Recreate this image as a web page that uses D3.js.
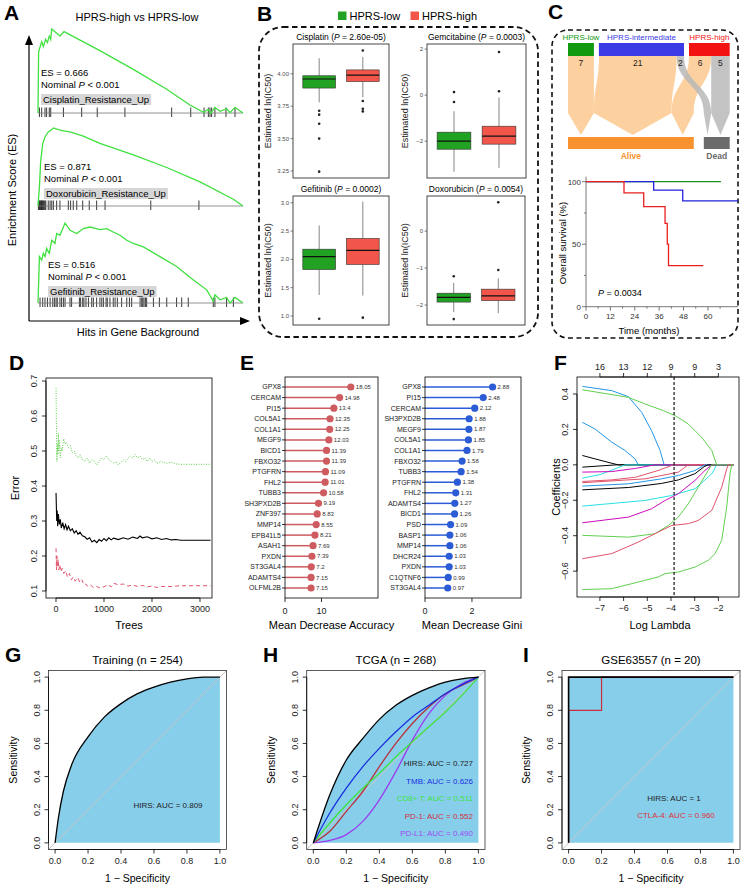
<!DOCTYPE html>
<html>
<head>
<meta charset="utf-8">
<script src="https://cdn.jsdelivr.net/npm/d3@7"></script>
<style>
  body { margin: 0; background: #fff; }
  svg { font-family: "Liberation Sans", Arial, Helvetica, sans-serif; }
</style>
</head>
<body>
<svg id="fig" width="746" height="889"></svg>
<script>
// ---------- data: A (GSEA) ----------
const gseaNames = ["Cisplatin_Resistance_Up", "Doxorubicin_Resistance_Up", "Gefitinib_Resistance_Up"];
const gseaES = [0.666, 0.871, 0.516];
const esCisplatin = [[0,0],[0.003,0.486],[0.018,0.566],[0.026,0.526],[0.037,0.584],[0.046,0.558],[0.055,0.61],[0.062,0.584],[0.067,0.666],[0.107,0.61],[0.127,0.645],[0.302,0.494],[0.465,0.346],[0.628,0.188],[0.741,0.063],[0.807,0.005],[0.831,0.029],[0.842,-0.003],[0.863,0.045],[0.888,0.013],[0.92,0.034],[0.937,0.003],[0.961,0.045],[1,0]];
const esDoxorubicin = [[0,0],[0.007,0.215],[0.013,0.5],[0.023,0.697],[0.034,0.771],[0.05,0.827],[0.067,0.853],[0.075,0.871],[0.1,0.853],[0.124,0.838],[0.156,0.827],[0.221,0.78],[0.302,0.7],[0.465,0.57],[0.628,0.43],[0.79,0.27],[0.953,0.075],[1,0]];
const esGefitinib = [[0,0],[0.007,0.299],[0.018,0.277],[0.026,0.32],[0.034,0.299],[0.042,0.352],[0.055,0.32],[0.067,0.405],[0.083,0.384],[0.091,0.448],[0.107,0.437],[0.132,0.516],[0.156,0.469],[0.189,0.448],[0.221,0.48],[0.254,0.49],[0.302,0.473],[0.335,0.48],[0.367,0.458],[0.4,0.437],[0.433,0.405],[0.465,0.384],[0.514,0.362],[0.595,0.299],[0.676,0.235],[0.758,0.149],[0.823,0.085],[0.855,0.011],[0.863,0.053],[0.888,0.021],[0.92,0.036],[0.937,0],[0.961,0.036],[1,0]];
const hitsCisplatin = [0.007,0.018,0.034,0.042,0.055,0.062,0.124,0.213,0.289,0.424,0.652,0.745,0.81,0.831,0.839,0.847,0.863,0.917,0.961];
const hitsDoxorubicin = [0.002,0.005,0.008,0.011,0.014,0.017,0.02,0.023,0.026,0.03,0.034,0.038,0.05,0.059,0.067,0.075,0.091,0.107,0.148,0.159,0.172,0.189,0.218,0.25,0.286,0.327,0.55,0.785];
const hitsGefitinib = [0.01,0.023,0.034,0.046,0.059,0.072,0.08,0.088,0.094,0.107,0.115,0.124,0.132,0.156,0.164,0.202,0.208,0.218,0.224,0.234,0.246,0.262,0.27,0.286,0.302,0.311,0.319,0.332,0.338,0.351,0.367,0.376,0.387,0.408,0.433,0.446,0.457,0.498,0.506,0.511,0.517,0.524,0.53,0.563,0.592,0.628,0.676,0.701,0.733,0.855,0.863,0.92,0.953];

// ---------- data: B (boxplots: lower whisker, Q1, median, Q3, upper whisker) ----------
const boxGroups = ["HPRS-low", "HPRS-high"];
const drugNames = ["Cisplatin", "Gemcitabine", "Gefitinib", "Doxorubicin"];
const drugP = ["2.60e-05", "0.0003", "0.0002", "0.0054"];
const cisLow = [3.78, 3.89, 3.96, 3.985, 4.12], cisLowOut = [3.715, 3.685, 3.615, 3.5, 3.245];
const cisHigh = [3.82, 3.94, 3.99, 4.03, 4.13], cisHighOut = [4.18, 3.79, 3.73, 3.71];
const gemLow = [-3.33, -2.35, -2.0, -1.61, -0.7], gemLowOut = [0.13, -0.3];
const gemHigh = [-3.16, -2.13, -1.78, -1.35, -0.1], gemHighOut = [0.17, 1.87];
const gefLow = [1.37, 1.82, 2.05, 2.18, 2.6], gefLowOut = [0.95];
const gefHigh = [1.36, 1.91, 2.16, 2.37, 3.02], gefHighOut = [0.97];
const doxLow = [-2.19, -1.92, -1.79, -1.68, -1.4], doxLowOut = [-1.22, -2.38];
const doxHigh = [-2.22, -1.88, -1.75, -1.57, -1.28], doxHighOut = [-1.05, 0.78];

// ---------- data: C (alluvial + KM) ----------
const sankeyGroups = ["HPRS-low", "HPRS-intermediate", "HPRS-high"];
const sankeyOutcomes = ["Alive", "Dead"];
const sankeyFlows = [["HPRS-low","Alive",7],["HPRS-intermediate","Alive",21],["HPRS-intermediate","Dead",2],["HPRS-high","Alive",6],["HPRS-high","Dead",5]];
const kmLow = [[0,100],[66.4,100]];
const kmInter = [[0,100],[33.3,93.3],[47.6,84.6],[74.8,84.6]];
const kmHigh = [[0,100],[18.7,91],[28.4,80],[38.9,66.7],[40,50],[40.6,32.8],[57.7,32.8]];
const kmXTicks = [0, 12, 24, 36, 48, 60];

// ---------- data: D (random forest error) ----------
const errOOB = [[1,0.38],[15,0.3],[25,0.33],[35,0.285],[50,0.32],[70,0.29],[90,0.305],[110,0.28],[140,0.295],[170,0.278],[200,0.29],[230,0.275],[260,0.285],[300,0.272],[340,0.278],[380,0.266],[420,0.272],[460,0.262],[500,0.268],[550,0.258],[600,0.255],[650,0.248],[700,0.252],[750,0.24],[800,0.245],[850,0.238],[900,0.247],[950,0.242],[1000,0.25],[1050,0.244],[1100,0.252],[1150,0.246],[1200,0.251],[1300,0.247],[1400,0.252],[1500,0.248],[1600,0.254],[1700,0.25],[1750,0.257],[1800,0.252],[1900,0.255],[2000,0.249],[2100,0.252],[2200,0.247],[2300,0.25],[2400,0.246],[2500,0.247],[2600,0.245],[2700,0.245],[3220,0.245]];
const errClass0 = [[1,0.222],[10,0.16],[20,0.2],[30,0.17],[45,0.19],[60,0.16],[80,0.175],[100,0.155],[130,0.165],[160,0.15],[200,0.158],[240,0.14],[280,0.15],[320,0.132],[360,0.14],[400,0.128],[450,0.138],[500,0.125],[540,0.132],[580,0.118],[620,0.12],[660,0.113],[720,0.117],[780,0.11],[850,0.113],[920,0.108],[1000,0.112],[1080,0.118],[1150,0.112],[1200,0.122],[1300,0.118],[1400,0.12],[1500,0.114],[1600,0.117],[1700,0.113],[1800,0.116],[1900,0.112],[2000,0.114],[2100,0.11],[2200,0.113],[2400,0.113],[2600,0.115],[3220,0.115]];
const errClass1 = [[1,0.68],[5,0.62],[10,0.56],[15,0.5],[20,0.47],[30,0.52],[40,0.49],[50,0.55],[60,0.5],[75,0.53],[90,0.48],[110,0.51],[130,0.5],[160,0.535],[190,0.52],[220,0.525],[260,0.51],[300,0.515],[340,0.495],[380,0.5],[420,0.485],[460,0.48],[500,0.49],[550,0.475],[600,0.47],[650,0.48],[700,0.465],[750,0.475],[800,0.47],[850,0.46],[900,0.47],[950,0.48],[1000,0.475],[1050,0.485],[1100,0.475],[1150,0.47],[1200,0.465],[1250,0.47],[1300,0.46],[1350,0.468],[1400,0.475],[1450,0.47],[1500,0.48],[1550,0.485],[1600,0.48],[1650,0.49],[1700,0.48],[1750,0.485],[1800,0.475],[1850,0.48],[1900,0.47],[1950,0.48],[2000,0.47],[2050,0.475],[2100,0.465],[2200,0.47],[2300,0.465],[2400,0.468],[2500,0.463],[2600,0.462],[3220,0.462]];

// ---------- data: E (importance) ----------
const accGenes = ["GPX8","CERCAM","PI15","COL5A1","COL1A1","MEGF9","BICD1","FBXO32","PTGFRN","FHL2","TUBB3","SH3PXD2B","ZNF397","MMP14","EPB41L5","ASAH1","PXDN","ST3GAL4","ADAMTS4","OLFML2B"];
const accValues = [18.05,14.98,13.4,12.35,12.25,12.03,11.39,11.39,11.09,11.01,10.58,9.19,8.83,8.55,8.21,7.69,7.39,7.2,7.15,7.15];
const giniGenes = ["GPX8","PI15","CERCAM","SH3PXD2B","MEGF9","COL5A1","COL1A1","FBXO32","TUBB3","PTGFRN","FHL2","ADAMTS4","BICD1","PSD","BASP1","MMP14","DHCR24","PXDN","C1QTNF6","ST3GAL4"];
const giniValues = [2.88,2.48,2.12,1.88,1.87,1.85,1.79,1.58,1.54,1.38,1.31,1.27,1.26,1.09,1.06,1.06,1.03,1.03,0.99,0.97];

// ---------- data: F (LASSO paths: [log lambda, coefficient]) ----------
const lassoColors = ["#2297E6","#61D04F","#2297E6","#000000","#000000","#28E2E5","#CD0BBC","#DF536B","#DF536B","#2297E6","#000000","#28E2E5","#CD0BBC","#61D04F","#DF536B","#61D04F"];
const lassoPaths = [
  [[-7.74,0.443],[-6.5,0.419],[-5.8,0.385],[-5.24,0.297],[-4.82,0.193],[-4.46,0.081],[-4.29,0]],
  [[-7.74,0.424],[-5.8,0.381],[-5.1,0.344],[-4.32,0.306],[-3.83,0.278],[-3.27,0.231],[-2.71,0.156],[-2.28,0.081],[-2.07,0]],
  [[-7.74,0.24],[-7.21,0.203],[-6.5,0.128],[-5.94,0.081],[-5.52,0.034],[-5.38,0]],
  [[-7.74,0.053],[-7.21,0.034],[-6.5,0.009],[-6.22,0]],
  [[-7.74,-0.013],[-6.3,0]],
  [[-7.74,-0.075],[-7.0,-0.055],[-6.5,-0.03],[-5.94,0]],
  [[-7.74,-0.041],[-6.5,-0.038],[-5.5,-0.02],[-4.68,0]],
  [[-7.74,-0.094],[-6.5,-0.085],[-5.5,-0.07],[-4.5,-0.03],[-3.9,0]],
  [[-7.74,-0.101],[-5.1,-0.079],[-3.69,-0.041],[-3.27,0]],
  [[-7.74,-0.12],[-5.8,-0.107],[-4.4,-0.079],[-3.69,-0.06],[-2.99,-0.032],[-2.57,0]],
  [[-7.74,-0.141],[-5.8,-0.128],[-4.4,-0.105],[-3.69,-0.085],[-2.99,-0.05],[-2.6,-0.01],[-2.43,0]],
  [[-7.74,-0.233],[-5.1,-0.201],[-3.97,-0.173],[-2.99,-0.135],[-2.28,-0.051],[-2.07,0]],
  [[-7.74,-0.327],[-5.8,-0.295],[-4.82,-0.248],[-4.25,-0.201],[-3.69,-0.163],[-2.99,-0.088],[-2.57,-0.032],[-2.28,0]],
  [[-7.74,-0.398],[-5.8,-0.408],[-4.68,-0.389],[-4.11,-0.342],[-3.69,-0.295],[-3.27,-0.22],[-2.85,-0.126],[-2.43,-0.032],[-2.28,0]],
  [[-7.74,-0.53],[-6.5,-0.501],[-5.38,-0.436],[-4.68,-0.389],[-3.97,-0.342],[-3.27,-0.332],[-2.85,-0.314],[-2.28,-0.257],[-1.86,-0.126],[-1.65,-0.023],[-1.58,0]],
  [[-7.74,-0.704],[-6.5,-0.699],[-5.1,-0.652],[-4.54,-0.633],[-4.25,-0.614],[-3.69,-0.605],[-2.99,-0.577],[-2.43,-0.539],[-2.14,-0.501],[-1.86,-0.426],[-1.65,-0.238],[-1.51,-0.051],[-1.44,0]]
];
const lassoLambdaMax = -1.37;
const lassoCut = -3.87;
const lassoXTicks = [-7, -6, -5, -4, -3, -2];
const lassoDf = ["16", "13", "12", "9", "9", "3"];

// ---------- data: G, H, I (ROC) ----------
const fprTrain = [0,0.02,0.05,0.1,0.2,0.3,0.4,0.5,0.6,0.7,0.8,0.9,1];
const sensTrain = [0,0.15,0.31,0.47,0.64,0.76,0.84,0.9,0.94,0.97,0.99,1,1];
const fprTcga = [0,0.1,0.2,0.3,0.4,0.5,0.6,0.7,0.8,0.9,1];
const sensHIRS = [0,0.29,0.5,0.63,0.745,0.83,0.89,0.935,0.97,0.99,1];
const sensTMB = [0,0.18,0.33,0.46,0.57,0.67,0.76,0.83,0.9,0.955,1];
const sensCD8 = [0,0.12,0.23,0.33,0.42,0.52,0.61,0.7,0.79,0.89,1];
const sensPD1 = [0,0.07,0.19,0.31,0.46,0.6,0.72,0.82,0.9,0.95,1];
const sensPDL1 = [0,0.015,0.05,0.13,0.26,0.43,0.62,0.78,0.89,0.96,1];
const fprGseHIRS = [0,0,1], sensGseHIRS = [0,1,1];
const fprCTLA4 = [0,0,0.2,0.2,1], sensCTLA4 = [0,0.8,0.8,1,1];

// ================= drawing =================
const svg = d3.select("#fig");

function txt(g, x, y, s, opt = {}) {
  const t = g.append("text").attr("x", x).attr("y", y)
    .attr("font-size", opt.size || 10)
    .attr("text-anchor", opt.anchor || "start")
    .attr("fill", opt.fill || "#000");
  if (s !== null) t.text(s);
  if (opt.weight) t.attr("font-weight", opt.weight);
  if (opt.style) t.attr("font-style", opt.style);
  if (opt.rotate) t.attr("transform", `rotate(${opt.rotate},${x},${y})`);
  return t;
}
function pText(g, x, y, pre, post, opt) {
  const t = txt(g, x, y, null, opt);
  t.append("tspan").text(pre);
  t.append("tspan").attr("font-style", "italic").text("P");
  t.append("tspan").text(post);
  return t;
}
function line(g, x1, y1, x2, y2, col, w) {
  return g.append("line").attr("x1", x1).attr("y1", y1).attr("x2", x2).attr("y2", y2)
    .attr("stroke", col || "#000").attr("stroke-width", w || 1);
}
// R-style axes
function rLeft(g, scale, x, ticks, fmt, fs, off) {
  line(g, x, scale(ticks[0]), x, scale(ticks[ticks.length - 1]), "#000", 0.8);
  ticks.forEach(t => {
    line(g, x - 4, scale(t), x, scale(t), "#000", 0.8);
    txt(g, x - off, scale(t), fmt(t), {size: fs, anchor: "middle", rotate: -90, fill: "#222"});
  });
}
function rBottom(g, scale, y, ticks, fmt, fs, labels) {
  line(g, scale(ticks[0]), y, scale(ticks[ticks.length - 1]), y, "#000", 0.8);
  ticks.forEach((t, i) => {
    line(g, scale(t), y, scale(t), y + 4, "#000", 0.8);
    txt(g, scale(t), y + 14, labels ? labels[i] : fmt(t), {size: fs, anchor: "middle", fill: "#222"});
  });
}

// panel letters
[["A",4,20],["B",257,21],["C",548,19],["D",9,370],["E",240,370],["F",554,370],["G",5,662],["H",263,662],["I",523,662]]
  .forEach(d => txt(svg, d[1], d[2], d[0], {size: 21, weight: "bold"}));

// ----- Panel A -----
(function () {
  const g = svg.append("g");
  const x = d3.scaleLinear().domain([0, 1]).range([38, 243]);
  const base = [113, 206, 303], peak = [29, 128, 223];
  const tx = [41, 44, 48], ty = [75.5, 169.5, 267.5];
  const curves = [esCisplatin, esDoxorubicin, esGefitinib];
  const hits = [hitsCisplatin, hitsDoxorubicin, hitsGefitinib];
  txt(g, 137, 21, "HPRS-high vs HPRS-low", {size: 11, anchor: "middle"});
  curves.forEach((c, i) => {
    const y = d3.scaleLinear().domain([0, gseaES[i]]).range([base[i], peak[i]]);
    g.selectAll(null).data(hits[i]).enter().append("line")
      .attr("x1", d => x(d)).attr("x2", d => x(d))
      .attr("y1", base[i] - 5.5).attr("y2", base[i] + 4)
      .attr("stroke", "#222").attr("stroke-width", 0.9);
    line(g, x(0), base[i], x(1), base[i], "#777", 0.8);
    g.append("path").datum(c)
      .attr("d", d3.line().x(d => x(d[0])).y(d => y(d[1])))
      .attr("fill", "none").attr("stroke", "#3fe03f").attr("stroke-width", 1.3);
    txt(g, tx[i], ty[i], "ES = " + gseaES[i].toFixed(3), {size: 9.5});
    pText(g, tx[i], ty[i] + 12, "Nominal ", " < 0.001", {size: 9.5});
    const lab = txt(g, tx[i] + 2, ty[i] + 27, gseaNames[i], {size: 9.5});
    const w = lab.node().getComputedTextLength();
    g.insert("rect", "text:last-child").attr("x", tx[i]).attr("y", ty[i] + 18.5)
      .attr("width", w + 4).attr("height", 11).attr("fill", "#d6d6d6");
  });
  // arrowed axes
  line(g, 29, 321, 29, 42, "#000", 1.2);
  g.append("path").attr("d", "M29,35 L25,45 L33,45 Z").attr("fill", "#000");
  line(g, 29, 321, 243, 321, "#000", 1.2);
  g.append("path").attr("d", "M250,321 L240,317 L240,325 Z").attr("fill", "#000");
  txt(g, 16, 190, "Enrichment Score (ES)", {size: 11, anchor: "middle", rotate: -90});
  txt(g, 138, 336, "Hits in Gene Background", {size: 11, anchor: "middle"});
})();

// ----- Panel B -----
(function () {
  const g = svg.append("g");
  const green = "#22a222", red = "#f2564a";
  g.append("rect").attr("x", 259).attr("y", 27).attr("width", 279).attr("height", 310).attr("rx", 24)
    .attr("fill", "none").attr("stroke", "#111").attr("stroke-width", 1.8).attr("stroke-dasharray", "5.5,3.5");
  g.append("rect").attr("x", 338).attr("y", 11.5).attr("width", 8.5).attr("height", 8.5).attr("fill", green);
  txt(g, 349.5, 20, boxGroups[0], {size: 11});
  g.append("rect").attr("x", 410.5).attr("y", 11.5).attr("width", 8.5).attr("height", 8.5).attr("fill", red);
  txt(g, 422, 20, boxGroups[1], {size: 11});

  const panels = [
    {x0: 293, x1: 389, y0: 44, y1: 178, dom: [3.196, 4.23], ticks: [3.25, 3.5, 3.75, 4.0], fmt: d3.format(".2f"), lab: 271, data: [[cisLow, cisLowOut], [cisHigh, cisHighOut]]},
    {x0: 427, x1: 526, y0: 44, y1: 178, dom: [-3.6, 2.22], ticks: [-2, 0, 2], fmt: d3.format("d"), lab: 408, data: [[gemLow, gemLowOut], [gemHigh, gemHighOut]]},
    {x0: 293, x1: 389, y0: 196, y1: 325, dom: [0.84, 3.12], ticks: [1, 1.5, 2, 2.5, 3], fmt: d3.format(".1f"), lab: 271, data: [[gefLow, gefLowOut], [gefHigh, gefHighOut]]},
    {x0: 427, x1: 525, y0: 196, y1: 325, dom: [-2.54, 0.95], ticks: [-2, -1, 0], fmt: d3.format("d"), lab: 408, data: [[doxLow, doxLowOut], [doxHigh, doxHighOut]]}
  ];
  panels.forEach((p, k) => {
    const x = d3.scaleLinear().domain([0.4, 2.6]).range([p.x0, p.x1]);
    const y = d3.scaleLinear().domain(p.dom).range([p.y1, p.y0]);
    const bw = x(0.75) - x(0);
    p.data.forEach((d, i) => {
      const s = d[0], cx = x(i + 1), col = i === 0 ? green : red;
      line(g, cx, y(s[0]), cx, y(s[1]), "#333", 0.6);
      line(g, cx, y(s[3]), cx, y(s[4]), "#333", 0.6);
      g.append("rect").attr("x", cx - bw / 2).attr("y", y(s[3])).attr("width", bw)
        .attr("height", y(s[1]) - y(s[3])).attr("fill", col).attr("stroke", "#333").attr("stroke-width", 0.6);
      line(g, cx - bw / 2, y(s[2]), cx + bw / 2, y(s[2]), "#111", 1.2);
      g.selectAll(null).data(d[1]).enter().append("circle")
        .attr("cx", cx).attr("cy", v => y(v)).attr("r", 1.3).attr("fill", "#222");
    });
    g.append("rect").attr("x", p.x0).attr("y", p.y0).attr("width", p.x1 - p.x0).attr("height", p.y1 - p.y0)
      .attr("fill", "none").attr("stroke", "#333").attr("stroke-width", 0.9);
    p.ticks.forEach(t => {
      line(g, p.x0 - 2.5, y(t), p.x0, y(t), "#333", 0.6);
      txt(g, p.x0 - 4, y(t) + 2, p.fmt(t), {size: 6, anchor: "end", fill: "#4d4d4d"});
    });
    pText(g, (p.x0 + p.x1) / 2, p.y0 - 4, drugNames[k] + " (", " = " + drugP[k] + ")", {size: 8.5, anchor: "middle"});
    txt(g, p.lab, (p.y0 + p.y1) / 2, "Estimated ln(IC50)", {size: 9, anchor: "middle", rotate: -90, fill: "#222"});
  });
})();

// ----- Panel C -----
(function () {
  const g = svg.append("g");
  g.append("rect").attr("x", 552).attr("y", 30).attr("width", 186).attr("height", 308).attr("rx", 16)
    .attr("fill", "none").attr("stroke", "#111").attr("stroke-width", 1.6).attr("stroke-dasharray", "5,3.5");
  const gcol = {"HPRS-low": "#109a10", "HPRS-intermediate": "#3b3be6", "HPRS-high": "#f31212"};
  const ocol = {"Alive": "#f7922f", "Dead": "#6b6b6b"};
  const total = d3.sum(sankeyFlows, f => f[2]);
  const u = d3.scaleLinear().domain([0, total]).range([0, total * 3.7]);
  const topY = 43, topH = 13, midY = 113, tipY = 135, botY = 137, botH = 12;
  const topPos = {}, botPos = {};
  let cx = 568;
  sankeyGroups.forEach(gn => {
    const n = d3.sum(sankeyFlows.filter(f => f[0] === gn), f => f[2]);
    topPos[gn] = {x0: cx, x1: cx + u(n)}; cx += u(n) + 5;
  });
  cx = 568;
  sankeyOutcomes.forEach(o => {
    const n = d3.sum(sankeyFlows.filter(f => f[1] === o), f => f[2]);
    botPos[o] = {x0: cx, x1: cx + u(n)}; cx += u(n) + 10;
  });
  const tc = {}, bc = {};
  sankeyGroups.forEach(gn => tc[gn] = topPos[gn].x0);
  sankeyOutcomes.forEach(o => bc[o] = botPos[o].x0);
  const flows = sankeyFlows.map(f => {
    const w = u(f[2]);
    const r = {src: f[0], dst: f[1], n: f[2], t0: tc[f[0]], t1: tc[f[0]] + w, b0: bc[f[1]], b1: bc[f[1]] + w};
    tc[f[0]] += w; bc[f[1]] += w;
    return r;
  });
  const ty = topY + topH, my = (ty + midY) / 2;
  const flowPath = f => `M${f.t0},${ty} C${f.t0},${my} ${f.b0},${my} ${f.b0},${midY} L${(f.b0 + f.b1) / 2},${tipY} L${f.b1},${midY} C${f.b1},${my} ${f.t1},${my} ${f.t1},${ty} Z`;
  ["Alive", "Dead"].forEach(o => {
    g.selectAll(null).data(flows.filter(f => f.dst === o)).enter().append("path")
      .attr("d", flowPath)
      .attr("fill", o === "Alive" ? "#fdd09f" : "#b9b9b9")
      .attr("fill-opacity", o === "Alive" ? 1 : 0.85);
  });
  sankeyGroups.forEach(gn => {
    const p = topPos[gn];
    g.append("rect").attr("x", p.x0).attr("y", topY).attr("width", p.x1 - p.x0).attr("height", topH).attr("fill", gcol[gn]);
    txt(g, (p.x0 + p.x1) / 2, 40, gn, {size: 8, anchor: "middle", fill: gcol[gn]});
  });
  flows.forEach(f => txt(g, (f.t0 + f.t1) / 2, 66, String(f.n), {size: 8.5, anchor: "middle", fill: "#222"}));
  sankeyOutcomes.forEach(o => {
    const p = botPos[o];
    g.append("rect").attr("x", p.x0).attr("y", botY).attr("width", p.x1 - p.x0).attr("height", botH).attr("fill", ocol[o]);
    txt(g, (p.x0 + p.x1) / 2, 159, o, {size: 8.5, anchor: "middle", weight: "bold", fill: ocol[o]});
  });

  // Kaplan-Meier
  const x = d3.scaleLinear().domain([0, 74.8]).range([586, 738]);
  const y = d3.scaleLinear().domain([0, 100]).range([306.7, 181.7]);
  line(g, x(0), y(0), x(0), y(104), "#555", 0.8);
  line(g, x(0), y(0), x(74.8), y(0), "#555", 0.8);
  [0, 50, 100].forEach(v => {
    line(g, x(0) - 4, y(v), x(0), y(v), "#555", 0.8);
    txt(g, x(0) - 5, y(v) + 3, String(v), {size: 8, anchor: "end", fill: "#333"});
  });
  [25, 75].forEach(v => line(g, x(0) - 2, y(v), x(0), y(v), "#555", 0.8));
  kmXTicks.forEach(v => {
    line(g, x(v), y(0), x(v), y(0) + 4, "#555", 0.8);
    txt(g, x(v), y(0) + 12.5, String(v), {size: 8, anchor: "middle", fill: "#333"});
    line(g, x(v + 6), y(0), x(v + 6), y(0) + 2, "#555", 0.8);
  });
  const km = d3.line().x(d => x(d[0])).y(d => y(d[1])).curve(d3.curveStepAfter);
  [[kmLow, "#1a901a"], [kmInter, "#2222e0"], [kmHigh, "#ea2020"]].forEach(k => {
    g.append("path").datum(k[0]).attr("d", km).attr("fill", "none").attr("stroke", k[1]).attr("stroke-width", 1.3);
  });
  pText(g, 598, 296, "", " = 0.0034", {size: 9});
  txt(g, 566, 243, "Overall survival (%)", {size: 9.5, anchor: "middle", rotate: -90});
  txt(g, 649, 334, "Time (months)", {size: 9.5, anchor: "middle"});
})();

// ----- Panel D -----
(function () {
  const g = svg.append("g");
  const x = d3.scaleLinear().domain([-208, 3250]).range([46, 212]);
  const y = d3.scaleLinear().domain([0.08, 0.7086]).range([598, 378]);
  const ln = d3.line().x(d => x(d[0])).y(d => y(d[1]));
  g.append("path").datum(errClass1).attr("d", ln).attr("fill", "none").attr("stroke", "#61D04F").attr("stroke-width", 1).attr("stroke-dasharray", "1,1.5");
  g.append("path").datum(errOOB).attr("d", ln).attr("fill", "none").attr("stroke", "#000").attr("stroke-width", 1.1);
  g.append("path").datum(errClass0).attr("d", ln).attr("fill", "none").attr("stroke", "#DF536B").attr("stroke-width", 1).attr("stroke-dasharray", "4,3");
  g.append("rect").attr("x", 46).attr("y", 378).attr("width", 166).attr("height", 220).attr("fill", "none").attr("stroke", "#000").attr("stroke-width", 0.8);
  rLeft(g, y, 46, [0.1, 0.2, 0.3, 0.4, 0.5, 0.6, 0.7], d3.format(".1f"), 9, 9);
  rBottom(g, x, 598, [0, 1000, 2000, 3000], d3.format("d"), 9);
  txt(g, 19, 488, "Error", {size: 11, anchor: "middle", rotate: -90});
  txt(g, 129, 629, "Trees", {size: 11, anchor: "middle"});
})();

// ----- Panel E -----
function lollipop(genes, values, x0, x1, dmax, col, ticks, fmtVal, xlab) {
  const g = svg.append("g");
  const x = d3.scaleLinear().domain([0, dmax]).range([x0, x1]);
  const y = d3.scalePoint().domain(genes).range([387, 588]);
  const rows = genes.map((gname, i) => ({g: gname, v: values[i]}));
  g.selectAll(null).data(rows).enter().append("line")
    .attr("x1", x(0)).attr("x2", d => x(d.v)).attr("y1", d => y(d.g)).attr("y2", d => y(d.g))
    .attr("stroke", col).attr("stroke-width", 1.5);
  g.selectAll(null).data(rows).enter().append("circle")
    .attr("cx", d => x(d.v)).attr("cy", d => y(d.g)).attr("r", 3.6).attr("fill", col);
  g.selectAll(null).data(rows).enter().append("text")
    .attr("x", d => x(d.v) + 5).attr("y", d => y(d.g)).attr("dy", "0.35em")
    .attr("font-size", 6).attr("fill", "#333").text(d => fmtVal(d.v));
  g.append("rect").attr("x", x0).attr("y", 377).attr("width", x1 - x0).attr("height", 221)
    .attr("fill", "none").attr("stroke", "#000").attr("stroke-width", 0.8);
  genes.forEach(gname => {
    line(g, x0 - 3, y(gname), x0, y(gname), "#000", 0.8);
    g.append("text").attr("x", x0 - 4).attr("y", y(gname)).attr("dy", "0.35em")
      .attr("text-anchor", "end").attr("font-size", 7).attr("fill", "#222").text(gname);
  });
  ticks.forEach(t => {
    line(g, x(t), 598, x(t), 602, "#000", 0.8);
    txt(g, x(t), 614, String(t), {size: 9, anchor: "middle", fill: "#222"});
  });
  txt(g, (x0 + x1) / 2 + (xlab === "Mean Decrease Gini" ? -1 : 0), 629, xlab, {size: 11, anchor: "middle"});
}
lollipop(accGenes, accValues, 285, 378, 25.5, "#cd5b60", [0, 10], v => String(v), "Mean Decrease Accuracy");
lollipop(giniGenes, giniValues, 425, 521, 4.09, "#2b5cd6", [0, 2], v => String(v), "Mean Decrease Gini");

// ----- Panel F -----
(function () {
  const g = svg.append("g");
  const x = d3.scaleLinear().domain([-7.966, -1.131]).range([577, 739]);
  const y = d3.scaleLinear().domain([-0.746, 0.496]).range([597, 377]);
  const ln = d3.line().x(d => x(d[0])).y(d => y(d[1]));
  lassoPaths.forEach((p, i) => {
    g.append("path").datum(p.concat([[lassoLambdaMax, 0]])).attr("d", ln)
      .attr("fill", "none").attr("stroke", lassoColors[i]).attr("stroke-width", 1);
  });
  line(g, x(lassoCut), 377, x(lassoCut), 597, "#000", 1.1).attr("stroke-dasharray", "3,2");
  g.append("rect").attr("x", 577).attr("y", 377).attr("width", 162).attr("height", 220)
    .attr("fill", "none").attr("stroke", "#000").attr("stroke-width", 0.8);
  rLeft(g, y, 577, [-0.6, -0.4, -0.2, 0, 0.2, 0.4], d3.format(".1f"), 9, 9);
  rBottom(g, x, 597, lassoXTicks, d3.format("d"), 9);
  line(g, x(-7), 377, x(-2), 377, "#000", 0.8);
  lassoXTicks.forEach((t, i) => {
    line(g, x(t), 373, x(t), 377, "#000", 0.8);
    txt(g, x(t), 370, lassoDf[i], {size: 9, anchor: "middle", fill: "#222"});
  });
  txt(g, 560, 487, "Coefficients", {size: 11, anchor: "middle", rotate: -90});
  txt(g, 660, 629, "Log Lambda", {size: 11, anchor: "middle"});
})();

// ----- Panels G, H, I -----
function rocPanel(cfg) {
  const g = svg.append("g");
  const x = d3.scaleLinear().domain([-0.04, 1.04]).range([cfg.x0, cfg.x1]);
  const y = d3.scaleLinear().domain([-0.04, 1.04]).range([849.5, 670.5]);
  const main = cfg.curves[0];
  const pts = c => c.fpr.map((f, i) => [f, c.sens[i]]);
  g.append("path").datum(pts(main))
    .attr("d", d3.area().x(d => x(d[0])).y0(y(0)).y1(d => y(d[1])).curve(cfg.curve))
    .attr("fill", "#87ceeb");
  line(g, x(-0.04), y(-0.04), x(1.04), y(1.04), "#c6c6c6", 1);
  cfg.curves.slice().reverse().forEach(c => {
    g.append("path").datum(pts(c))
      .attr("d", d3.line().x(d => x(d[0])).y(d => y(d[1])).curve(cfg.curve))
      .attr("fill", "none").attr("stroke", c.color).attr("stroke-width", c.w || 1.3);
  });
  g.append("rect").attr("x", cfg.x0).attr("y", 670.5).attr("width", cfg.x1 - cfg.x0).attr("height", 179)
    .attr("fill", "none").attr("stroke", "#333").attr("stroke-width", 0.8);
  const ticks = [0, 0.2, 0.4, 0.6, 0.8, 1];
  rLeft(g, y, cfg.x0, ticks, d3.format(".1f"), 9, 8.5);
  rBottom(g, x, 849.5, ticks, d3.format(".1f"), 9);
  txt(g, (cfg.x0 + cfg.x1) / 2, 664, cfg.title, {size: 11.5, anchor: "middle"});
  txt(g, cfg.x0 - 32, 760, "Sensitivity", {size: 10.5, anchor: "middle", rotate: -90});
  txt(g, (cfg.x0 + cfg.x1) / 2, 882, "1 \u2212 Specificity", {size: 10.5, anchor: "middle"});
  cfg.labels.forEach(l => txt(g, l.x, l.y, l.t, {size: 8, anchor: l.a, fill: l.c}));
}
rocPanel({
  x0: 48.5, x1: 226.5, title: "Training (n = 254)", curve: d3.curveMonotoneX,
  curves: [{fpr: fprTrain, sens: sensTrain, color: "#000"}],
  labels: [{x: 168, y: 808, t: "HIRS: AUC = 0.809", a: "middle", c: "#222"}]
});
rocPanel({
  x0: 306.7, x1: 485, title: "TCGA (n = 268)", curve: d3.curveMonotoneX,
  curves: [
    {fpr: fprTcga, sens: sensHIRS, color: "#000"},
    {fpr: fprTcga, sens: sensTMB, color: "#1a2fe0"},
    {fpr: fprTcga, sens: sensCD8, color: "#3ee23e"},
    {fpr: fprTcga, sens: sensPD1, color: "#b8323c"},
    {fpr: fprTcga, sens: sensPDL1, color: "#9b3cf0"}
  ],
  labels: [
    {x: 473, y: 766, t: "HIRS: AUC = 0.727", a: "end", c: "#222"},
    {x: 473, y: 784, t: "TMB: AUC = 0.626", a: "end", c: "#1a2fe0"},
    {x: 473, y: 801, t: "CD8+ T: AUC = 0.511", a: "end", c: "#3ee23e"},
    {x: 473, y: 819, t: "PD-1: AUC = 0.552", a: "end", c: "#d0303c"},
    {x: 473, y: 836, t: "PD-L1: AUC = 0.490", a: "end", c: "#a04af5"}
  ]
});
rocPanel({
  x0: 562, x1: 740, title: "GSE63557 (n = 20)", curve: d3.curveLinear,
  curves: [
    {fpr: fprGseHIRS, sens: sensGseHIRS, color: "#000", w: 1.6},
    {fpr: fprCTLA4, sens: sensCTLA4, color: "#c8303c", w: 1.2}
  ],
  labels: [
    {x: 674, y: 801, t: "HIRS: AUC = 1", a: "middle", c: "#222"},
    {x: 676, y: 818, t: "CTLA-4: AUC = 0.960", a: "middle", c: "#e0303a"}
  ]
});
</script>
</body>
</html>
